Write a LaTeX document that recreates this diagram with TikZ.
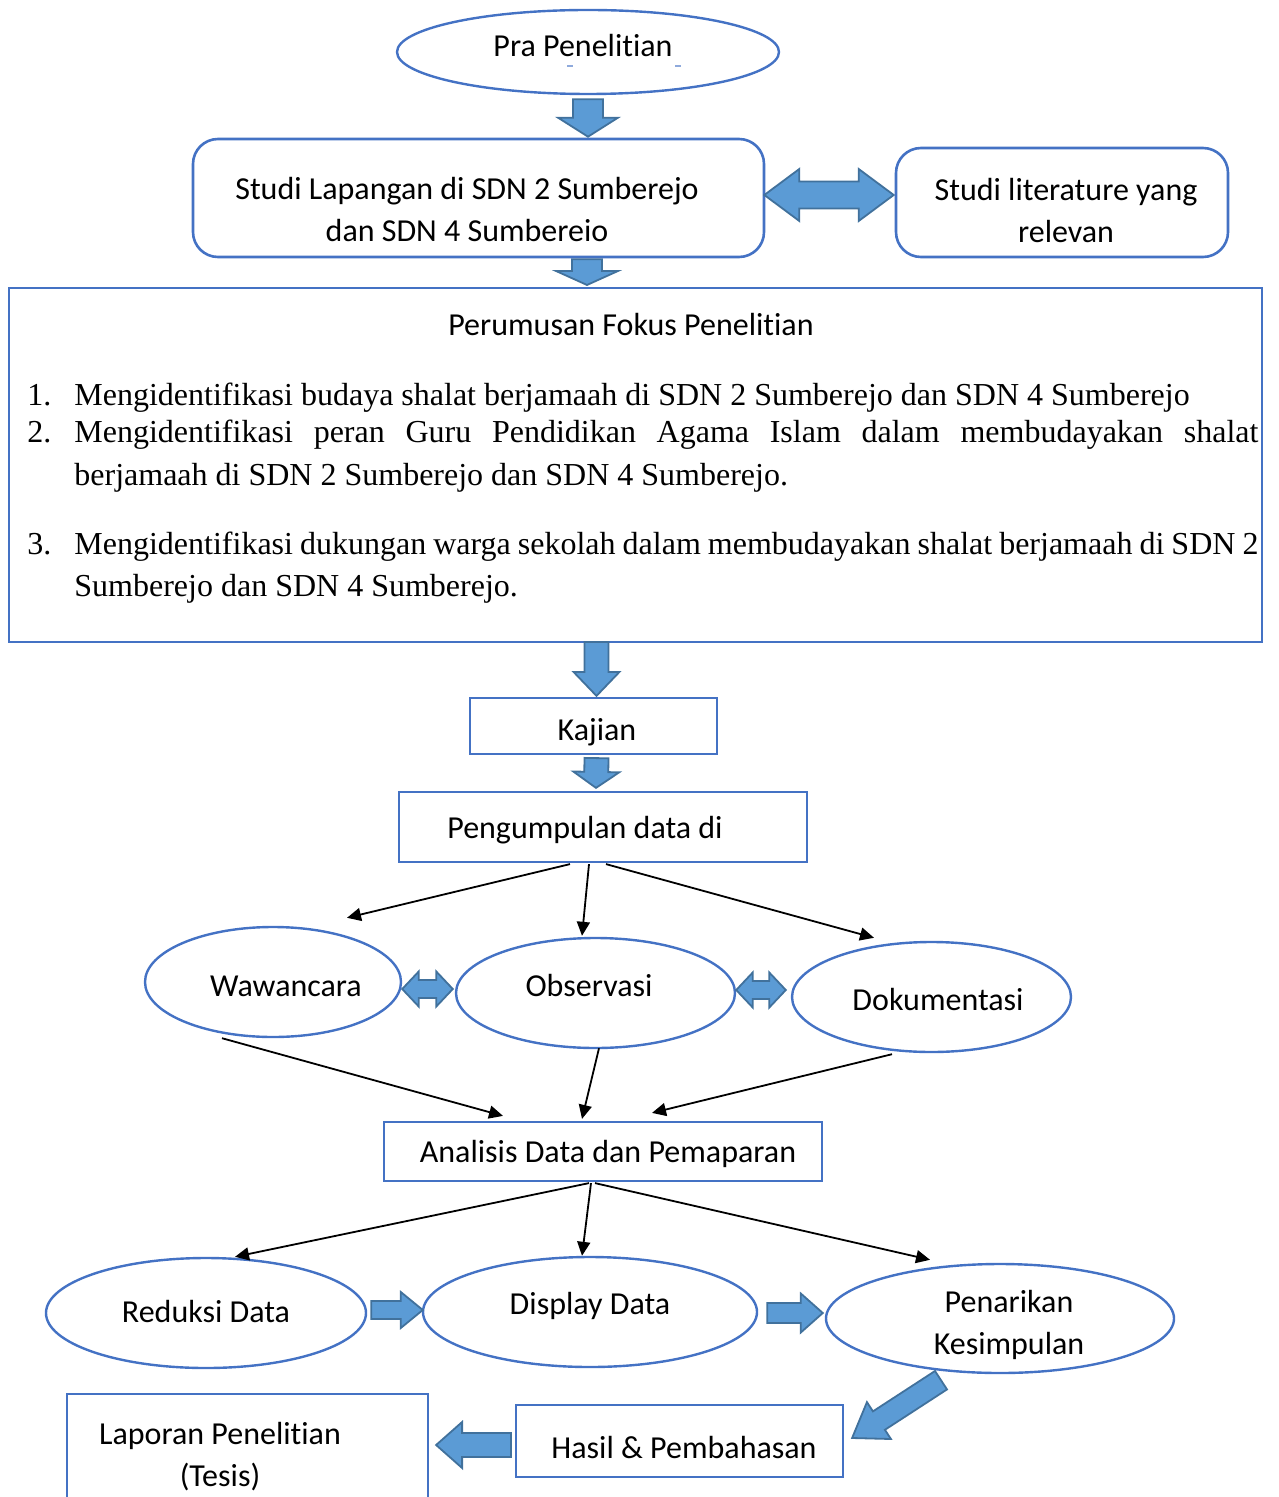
\documentclass[tikz,border=0pt]{standalone}
\usepackage{fontspec}
\setmainfont{Liberation Serif}
\newfontfamily\calib[Ligatures=NoCommon,Contextuals=NoAlternate]{Carlito}
\usetikzlibrary{shapes.geometric,calc,arrows.meta}

\definecolor{edgeblue}{HTML}{4472C4}
\definecolor{arrowfill}{HTML}{5B9BD5}
\definecolor{arrowline}{HTML}{41719C}

% block arrow: #1 tail, #2 tip, #3 shaft half width, #4 head half width, #5 head length
\newcommand\blockarrow[5]{%
  \coordinate (ba-c) at ($(#2)!#5!(#1)$);
  \draw[barrow] ($(#1)!#3!90:(#2)$) -- ($(ba-c)!#3!90:(#2)$) -- ($(ba-c)!#4!90:(#2)$)
    -- (#2) -- ($(ba-c)!#4!-90:(#2)$) -- ($(ba-c)!#3!-90:(#2)$) -- ($(#1)!#3!-90:(#2)$) -- cycle;}
% two-headed block arrow between #1 and #2
\newcommand\dblarrow[5]{%
  \coordinate (ba-p) at ($(#1)!#5!(#2)$);
  \coordinate (ba-q) at ($(#2)!#5!(#1)$);
  \draw[barrow] (#1) -- ($(ba-p)!#4!90:(#2)$) -- ($(ba-p)!#3!90:(#2)$) -- ($(ba-q)!#3!90:(#2)$)
    -- ($(ba-q)!#4!90:(#2)$) -- (#2) -- ($(ba-q)!#4!-90:(#2)$) -- ($(ba-q)!#3!-90:(#2)$)
    -- ($(ba-p)!#3!-90:(#2)$) -- ($(ba-p)!#4!-90:(#2)$) -- cycle;}

\begin{document}
\begin{tikzpicture}[x=0.5pt,y=-0.5pt,
  ell/.style={ellipse, draw=edgeblue, line width=1.2pt, inner sep=0},
  rbox/.style={rectangle, rounded corners=12.5pt, draw=edgeblue, line width=1.3pt, inner sep=0},
  sbox/.style={rectangle, draw=edgeblue, line width=1.1pt, inner sep=0},
  lbl/.style={font=\calib\fontsize{16}{21}\selectfont, inner sep=0, align=center},
  serif/.style={font=\fontsize{16}{21}\selectfont, inner sep=0, anchor=base west},
  barrow/.style={fill=arrowfill, draw=arrowline, line width=0.9pt, line join=miter},
  link/.style={-{Triangle[length=7pt,width=6.5pt]}, line width=0.9pt, black}]
\useasboundingbox (0,0) rectangle (1278,1497);
\clip (0,0) rectangle (1278,1497);

% ---- shapes ----
\node[ell, minimum width=191pt, minimum height=42pt] (pra) at (588,52) {};
\node[rbox, minimum width=285.5pt, minimum height=59pt] (lap) at (478.5,198) {};
\node[rbox, minimum width=166pt, minimum height=54.5pt] (lit) at (1062,202.5) {};
\node[sbox, line width=1pt, minimum width=626.5pt, minimum height=177pt] (fokus) at (635.5,465) {};
\node[sbox, minimum width=123.5pt, minimum height=28pt] (kaj) at (593.5,726) {};
\node[sbox, minimum width=204pt, minimum height=35pt] (peng) at (603,827) {};
\node[ell, minimum width=128pt, minimum height=55pt] (waw) at (273,982) {};
\node[ell, minimum width=139.5pt, minimum height=55pt] (obs) at (595.5,993) {};
\node[ell, minimum width=139.5pt, minimum height=55pt] (dok) at (931.5,997) {};
\node[sbox, minimum width=219pt, minimum height=29.5pt] (ana) at (603,1151.5) {};
\node[ell, minimum width=160pt, minimum height=55pt] (red) at (206,1313) {};
\node[ell, minimum width=167pt, minimum height=55pt] (dis) at (590,1312) {};
\node[ell, minimum width=174pt, minimum height=54.5pt] (pen) at (1000,1318.5) {};
\node[sbox, minimum width=163.5pt, minimum height=36pt] (has) at (679.5,1441) {};
\node[sbox, minimum width=180.5pt, minimum height=68pt] (lpr) at (247.5,1462) {};

% ---- texts ----
\node[lbl] (t-pra) at (583,46) {Pra Penelitian};
\draw[edgeblue!60, line width=0.6pt] (567,66) -- (573,66) (675,66) -- (681,66);
\node[lbl] (t-lap) at (467,210) {Studi Lapangan di SDN 2 Sumberejo\\dan SDN 4 Sumbereio};
\node[lbl] (t-lit) at (1066,211) {Studi literature yang\\relevan};
\node[lbl] (t-fok) at (631,325) {Perumusan Fokus Penelitian};
\node[serif] (n1) at (27,406) {1.};
\node[serif] (i1) at (74,406) {Mengidentifikasi budaya shalat berjamaah di SDN 2 Sumberejo dan SDN 4 Sumberejo};
\node[serif] (n2) at (27,443) {2.};
\node[serif] (i2) at (74,443) {\parbox[t]{592pt}{\hyphenpenalty=10000 Mengidentifikasi peran Guru Pendidikan Agama Islam dalam membudayakan shalat\linebreak berjamaah di SDN 2 Sumberejo dan SDN 4 Sumberejo.}};
\node[serif] (n3) at (27,554) {3.};
\node[serif] (i3) at (74,554) {\parbox[t]{592pt}{\hyphenpenalty=10000 Mengidentifikasi dukungan warga sekolah dalam membudayakan shalat berjamaah di SDN 2\linebreak Sumberejo dan SDN 4 Sumberejo.}};
\node[lbl] (t-kaj) at (597,732) {Kajian};
\node[lbl] (t-peng) at (585,830) {Pengumpulan data di};
\node[lbl] (t-waw) at (286,986) {Wawancara};
\node[lbl] (t-obs) at (589,985) {Observasi};
\node[lbl] (t-dok) at (938,999) {Dokumentasi};
\node[lbl] (t-ana) at (608,1154) {Analisis Data dan Pemaparan};
\node[lbl] (t-red) at (206,1311) {Reduksi Data};
\node[lbl] (t-dis) at (590,1306) {Display Data};
\node[lbl] (t-pen) at (1009,1324.5) {Penarikan\\Kesimpulan};
\node[lbl] (t-has) at (684,1447) {Hasil \& Pembahasan};
\node[lbl] (t-lpr) at (220,1457) {Laporan Penelitian\\(Tesis)};

% ---- block arrows ----
\coordinate (a1t) at ($(pra.south)+(0,4)$);
\coordinate (a1h) at ($(pra.south |- lap.north)+(0,-1)$);
\blockarrow{a1t}{a1h}{7.5pt}{15pt}{9.5pt}
\coordinate (a2t) at ($(lap.south -| pra.south)+(-1,1)$);
\coordinate (a2h) at ($(pra.south |- fokus.north)+(-1,-2)$);
\blockarrow{a2t}{a2h}{7.5pt}{15.5pt}{7pt}
\coordinate (d1t) at ($(lap.east)+(-1,-3)$);
\coordinate (d1h) at ($(lit.west)+(-1,-7.5)$);
\dblarrow{d1t}{d1h}{6.75pt}{13pt}{17.5pt}
\coordinate (a3t) at ($(kaj.north)+(3,-55)$);
\coordinate (a3h) at ($(kaj.north)+(3,-1)$);
\blockarrow{a3t}{a3h}{6pt}{11.5pt}{12pt}
\coordinate (a4t) at ($(kaj.south)+(3,3)$);
\coordinate (a4h) at ($(peng.north)+(-7,-3)$);
\blockarrow{a4t}{a4h}{6pt}{11.5pt}{8pt}
\coordinate (d2t) at ($(waw.east)+(0,7)$);
\coordinate (d2h) at ($(obs.west)+(-2,-4)$);
\dblarrow{d2t}{d2h}{4.5pt}{8.75pt}{8.25pt}
\coordinate (d3t) at ($(obs.east)+(0,-3)$);
\coordinate (d3h) at ($(dok.west)+(-5,-7)$);
\dblarrow{d3t}{d3h}{4.5pt}{8.75pt}{8.25pt}
\coordinate (r1t) at ($(red.east)+(4,-3)$);
\coordinate (r1h) at ($(dis.west)+(1,-2)$);
\blockarrow{r1t}{r1h}{4.5pt}{9pt}{11pt}
\coordinate (r2t) at ($(dis.east)+(9,1)$);
\coordinate (r2h) at ($(pen.west)+(-2,-5.5)$);
\blockarrow{r2t}{r2h}{5pt}{9.75pt}{11pt}
\coordinate (g1t) at ($(pen.south)+(-59,6)$);
\coordinate (g1h) at ($(has.east)+(8,-3)$);
\blockarrow{g1t}{g1h}{5.5pt}{11pt}{16pt}
\coordinate (h1t) at ($(has.west)+(-4,4)$);
\coordinate (h1h) at ($(lpr.east)+(7,-17)$);
\blockarrow{h1t}{h1h}{6pt}{11.5pt}{13pt}

% ---- thin connectors ----
\draw[link] ($(peng.south)+(-33,1)$) -- ($(waw.north)+(74,-8)$);
\draw[link] ($(peng.south)+(-14,1)$) -- ($(obs.north)+(-13.5,-1)$);
\draw[link] ($(peng.south)+(3,1)$) -- ($(dok.north)+(-57.5,-3)$);
\draw[link] ($(waw.south)+(-51,0)$) -- ($(ana.north)+(-100,-5)$);
\draw[link] ($(obs.south)+(3.5,-1)$) -- ($(ana.north)+(-21,-2)$);
\draw[link] ($(dok.south)+(-39.5,1)$) -- ($(ana.north)+(49,-8)$);
\draw[link] ($(ana.south)+(-14,1)$) -- ($(red.north)+(29,0)$);
\draw[link] ($(ana.south)+(-12,1)$) -- ($(dis.north)+(-8,0)$);
\draw[link] ($(ana.south)+(-8,1)$) -- ($(pen.north)+(-70,-3)$);
\end{tikzpicture}
\end{document}
